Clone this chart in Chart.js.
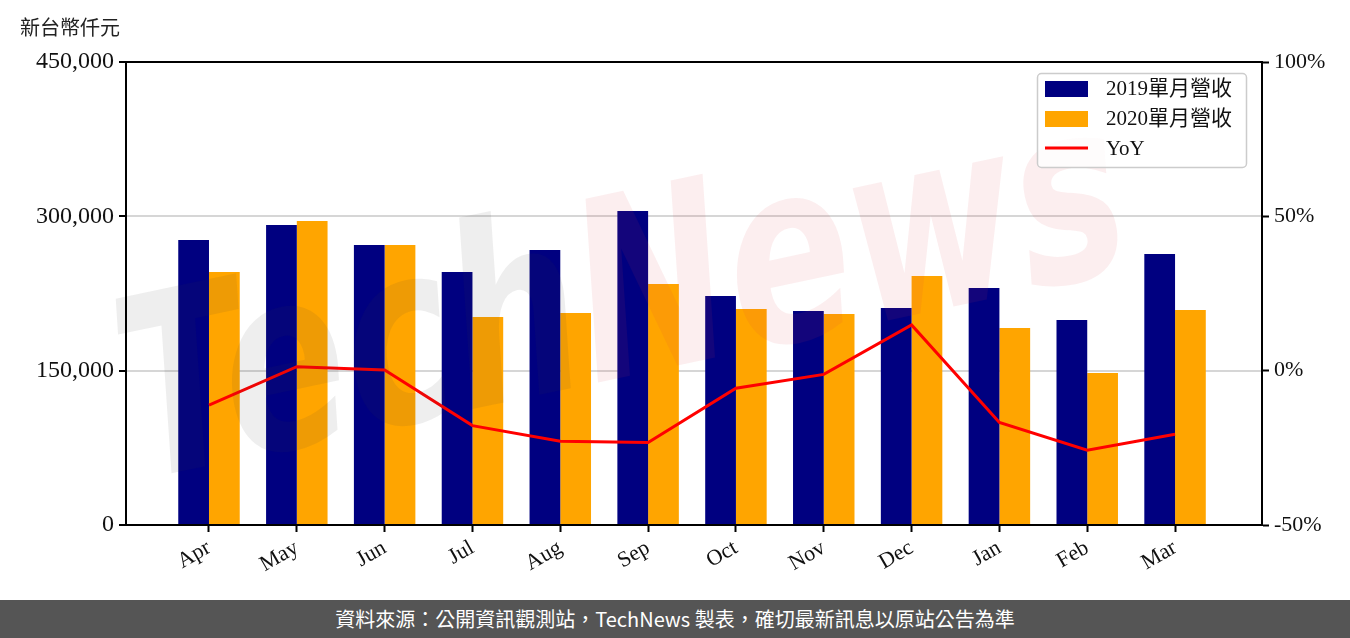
<!DOCTYPE html>
<html>
<head>
<meta charset="utf-8">
<script src="https://cdn.jsdelivr.net/npm/chart.js@4"></script>
<style>
  body { margin: 0; background: #fff; }
  #wrap { width: 1350px; height: 638px; position: relative; }
  #footer {
    position: absolute; left: 0; top: 600px; width: 1350px; height: 38px;
    background: #555555; color: #fff; text-align: center;
    font: 20px "Noto Sans CJK TC", "Noto Sans", sans-serif; line-height: 38px;
  }
</style>
</head>
<body>
<div id="wrap">
  <canvas id="revenueChart" width="1350" height="600"></canvas>
  <div id="footer">資料來源：公開資訊觀測站，TechNews 製表，確切最新訊息以原站公告為準</div>
</div>
<script>
// data
const months = ['Apr', 'May', 'Jun', 'Jul', 'Aug', 'Sep', 'Oct', 'Nov', 'Dec', 'Jan', 'Feb', 'Mar'];
const rev2019 = [277000, 291600, 272100, 245900, 267300, 305200, 222600, 208000, 210900, 230400, 199200, 263400];
const rev2020 = [245900, 295500, 272100, 202200, 206000, 234200, 210000, 205100, 242000, 191500, 147700, 209000];
const yoy = [-11.2, 1.3, 0.2, -17.8, -22.9, -23.3, -5.7, -1.2, 14.8, -16.8, -25.8, -20.6];
const leftTicks = [0, 150000, 300000, 450000];
const rightTicks = [-50, 0, 50, 100];

const SERIF = '"Liberation Serif", "Noto Sans CJK TC", serif';

function points(arr) {
    return arr.map(function (v, i) { return { x: i, y: v }; });
}

// extra drawing: unit label, frame, watermark, legend
const decorPlugin = {
    id: 'decor',
    afterDatasetsDraw: function (chart) {
        const ctx = chart.ctx;
        const a = chart.chartArea;

        // watermark
        ctx.save();
        ctx.translate(140, 480);
        ctx.rotate(-0.21);
        ctx.font = 'bold italic 250px "DejaVu Sans", sans-serif';
        const w = ctx.measureText('TechNews').width;
        ctx.scale(1020 / w, 1);
        ctx.textBaseline = 'alphabetic';
        ctx.fillStyle = 'rgba(60, 60, 60, 0.085)';
        ctx.fillText('Tech', 0, 0);
        const tw = ctx.measureText('Tech').width;
        ctx.fillStyle = 'rgba(215, 60, 70, 0.085)';
        ctx.fillText('News', tw, 0);
        ctx.restore();

        // frame
        ctx.save();
        ctx.strokeStyle = '#000';
        ctx.lineWidth = 2;
        ctx.strokeRect(a.left, a.top, a.right - a.left, a.bottom - a.top);
        ctx.restore();
    },
    afterDraw: function (chart) {
        const ctx = chart.ctx;
        ctx.save();
        ctx.fillStyle = '#222';
        ctx.font = '20px "Noto Sans CJK TC", sans-serif';
        ctx.textBaseline = 'middle';
        ctx.fillText('新台幣仟元', 20, 27);

        // legend
        ctx.fillStyle = 'rgba(255,255,255,0.8)';
        ctx.strokeStyle = '#cccccc';
        ctx.lineWidth = 1.5;
        ctx.beginPath();
        ctx.roundRect(1037.5, 73.5, 209, 94, 4);
        ctx.fill();
        ctx.stroke();

        ctx.font = '21px ' + SERIF;
        chart.data.datasets.forEach(function (ds, i) {
            const y = 89 + i * 30;
            if (ds.type === 'line') {
                ctx.strokeStyle = ds.borderColor;
                ctx.lineWidth = 3;
                ctx.beginPath();
                ctx.moveTo(1045, y - 1);
                ctx.lineTo(1088, y - 1);
                ctx.stroke();
            } else {
                ctx.fillStyle = ds.backgroundColor;
                ctx.fillRect(1045, y - 8, 43, 16);
            }
            ctx.fillStyle = '#111';
            ctx.fillText(ds.label, 1106, y);
        });
        ctx.restore();
    }
};

const ctx1 = document.getElementById('revenueChart').getContext('2d');
const revenueChart = new Chart(ctx1, {
    type: 'bar',
    data: {
        datasets: [{
            label: '2019單月營收',
            data: points(rev2019),
            backgroundColor: '#000080',
            yAxisID: 'y',
            order: 2
        }, {
            label: '2020單月營收',
            data: points(rev2020),
            backgroundColor: '#FFA500',
            yAxisID: 'y',
            order: 2
        }, {
            type: 'line',
            label: 'YoY',
            data: points(yoy),
            borderColor: '#FF0000',
            borderWidth: 3,
            pointRadius: 0,
            tension: 0,
            yAxisID: 'y1',
            order: 1
        }]
    },
    options: {
        responsive: false,
        devicePixelRatio: 1,
        animation: false,
        categoryPercentage: 0.7,
        barPercentage: 1.0,
        layout: { padding: { top: 62, left: 0, right: 0, bottom: 0 } },
        plugins: {
            legend: { display: false },
            tooltip: { enabled: false }
        },
        scales: {
            x: {
                type: 'linear',
                min: -0.945,
                max: 11.99,
                offset: false,
                afterBuildTicks: function (s) {
                    s.ticks = months.map(function (m, i) { return { value: i }; });
                },
                afterFit: function (s) { s.height = 75; },
                grid: { offset: false, drawOnChartArea: false, drawTicks: true, tickLength: 7, tickColor: '#000', tickWidth: 2 },
                border: { color: '#000', width: 2 },
                ticks: {
                    autoSkip: false,
                    minRotation: 30,
                    maxRotation: 30,
                    padding: 3,
                    color: '#111',
                    font: { family: SERIF, size: 22 },
                    callback: function (v) { return months[v]; }
                }
            },
            y: {
                position: 'left',
                min: 0,
                max: 450000,
                afterBuildTicks: function (s) {
                    s.ticks = leftTicks.map(function (v) { return { value: v }; });
                },
                afterFit: function (s) { s.width = 126; },
                grid: {
                    color: function (c) {
                        const v = c.tick ? c.tick.value : null;
                        return (v === 150000 || v === 300000) ? '#d6d6d6' : 'rgba(0,0,0,0)';
                    },
                    lineWidth: 2,
                    tickColor: '#000',
                    tickLength: 7,
                    tickWidth: 2
                },
                border: { color: '#000', width: 2 },
                ticks: {
                    color: '#111',
                    padding: 5,
                    font: { family: SERIF, size: 24 },
                    callback: function (v) { return v.toLocaleString('en-US'); }
                }
            },
            y1: {
                position: 'right',
                min: -50,
                max: 100,
                afterBuildTicks: function (s) {
                    s.ticks = rightTicks.map(function (v) { return { value: v }; });
                },
                afterFit: function (s) { s.width = 88; },
                grid: { drawOnChartArea: false, tickColor: '#000', tickLength: 7, tickWidth: 2 },
                border: { color: '#000', width: 2 },
                ticks: {
                    color: '#111',
                    padding: 5,
                    font: { family: SERIF, size: 22 },
                    callback: function (v) { return v + '%'; }
                }
            }
        }
    },
    plugins: [decorPlugin]
});
</script>
</body>
</html>
